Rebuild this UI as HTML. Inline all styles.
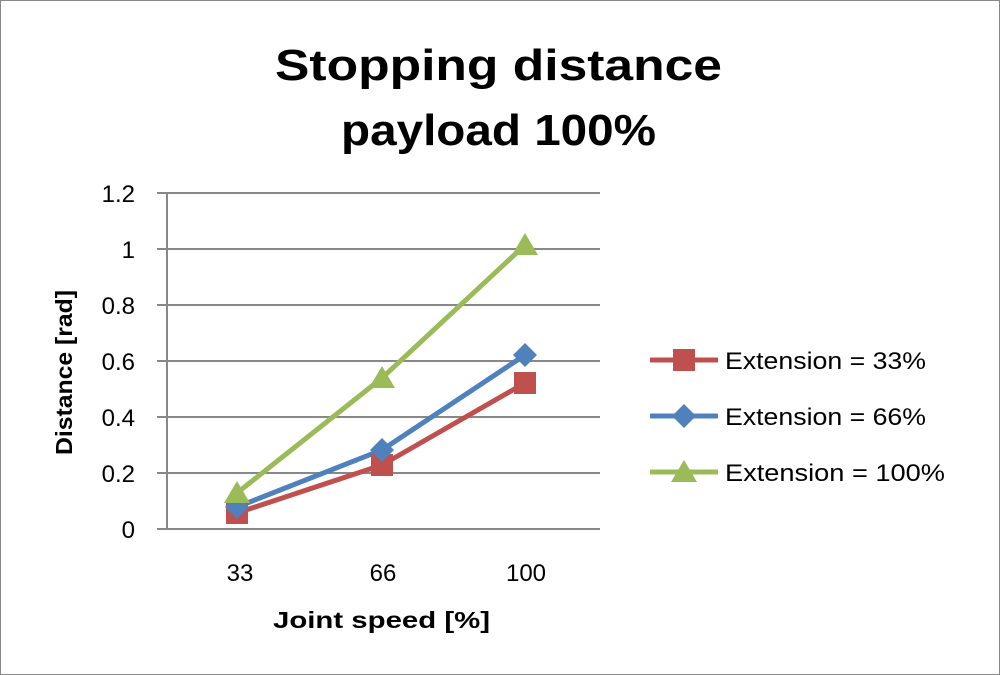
<!DOCTYPE html>
<html><head><style>body{margin:0;background:#fff}svg{display:block}</style></head><body>
<svg width="1000" height="675" viewBox="0 0 1000 675" font-family="'Liberation Sans',sans-serif">
<rect x="0.5" y="0.5" width="999" height="674" fill="#fff" stroke="#888"/>
<text x="275" y="80" font-size="44" font-weight="bold" textLength="447" lengthAdjust="spacingAndGlyphs">Stopping distance</text>
<text x="341" y="145" font-size="44" font-weight="bold" textLength="315" lengthAdjust="spacingAndGlyphs">payload 100%</text>
<g stroke="#888" stroke-width="2">
<line x1="157" y1="193" x2="600" y2="193"/><line x1="157" y1="249" x2="600" y2="249"/>
<line x1="157" y1="305" x2="600" y2="305"/><line x1="157" y1="361" x2="600" y2="361"/>
<line x1="157" y1="417" x2="600" y2="417"/><line x1="157" y1="473" x2="600" y2="473"/>
<line x1="157" y1="529" x2="600" y2="529"/><line x1="167" y1="193" x2="167" y2="529"/>
</g>
<g font-size="24" text-anchor="end" fill="#000">
<text x="135" y="202">1.2</text><text x="135" y="258">1</text><text x="135" y="314">0.8</text>
<text x="135" y="370">0.6</text><text x="135" y="426">0.4</text><text x="135" y="482">0.2</text><text x="135" y="538">0</text>
</g>
<g font-size="24" text-anchor="middle"><text x="240" y="581">33</text><text x="383" y="581">66</text><text x="526" y="581">100</text></g>
<text x="273" y="628" font-size="23" font-weight="bold" textLength="217" lengthAdjust="spacingAndGlyphs">Joint speed [%]</text>
<text transform="translate(72,455) rotate(-90)" font-size="23" font-weight="bold" textLength="165" lengthAdjust="spacingAndGlyphs">Distance [rad]</text>
<g stroke-width="5" fill="none">
<polyline points="237,513 382,465 525,383" stroke="#c0504d"/>
<polyline points="237,507 382,450 525,355" stroke="#4f81bd"/>
<polyline points="237,493 382,378 525,245" stroke="#9bbb59"/>
</g>
<g fill="#c0504d"><rect x="226" y="502" width="22" height="22"/><rect x="371" y="454" width="22" height="22"/><rect x="514" y="372" width="22" height="22"/></g>
<g fill="#4f81bd"><polygon points="237,495 249,507 237,519 225,507"/><polygon points="382,438 394,450 382,462 370,450"/><polygon points="525,343 537,355 525,367 513,355"/></g>
<g fill="#9bbb59"><polygon points="237,481 250,503 224,503"/><polygon points="382,366 395,388 369,388"/><polygon points="525,233 538,255 512,255"/></g>
<g font-size="24">
<line x1="650" y1="360" x2="718" y2="360" stroke="#c0504d" stroke-width="5"/><rect x="673" y="349" width="22" height="22" fill="#c0504d"/>
<text x="725" y="369" textLength="201" lengthAdjust="spacingAndGlyphs">Extension = 33%</text>
<line x1="650" y1="416" x2="718" y2="416" stroke="#4f81bd" stroke-width="5"/><polygon points="684,404 696,416 684,428 672,416" fill="#4f81bd"/>
<text x="725" y="425" textLength="201" lengthAdjust="spacingAndGlyphs">Extension = 66%</text>
<line x1="650" y1="472" x2="718" y2="472" stroke="#9bbb59" stroke-width="5"/><polygon points="684,460 697,482 671,482" fill="#9bbb59"/>
<text x="725" y="481" textLength="220" lengthAdjust="spacingAndGlyphs">Extension = 100%</text>
</g>
</svg>
</body></html>
